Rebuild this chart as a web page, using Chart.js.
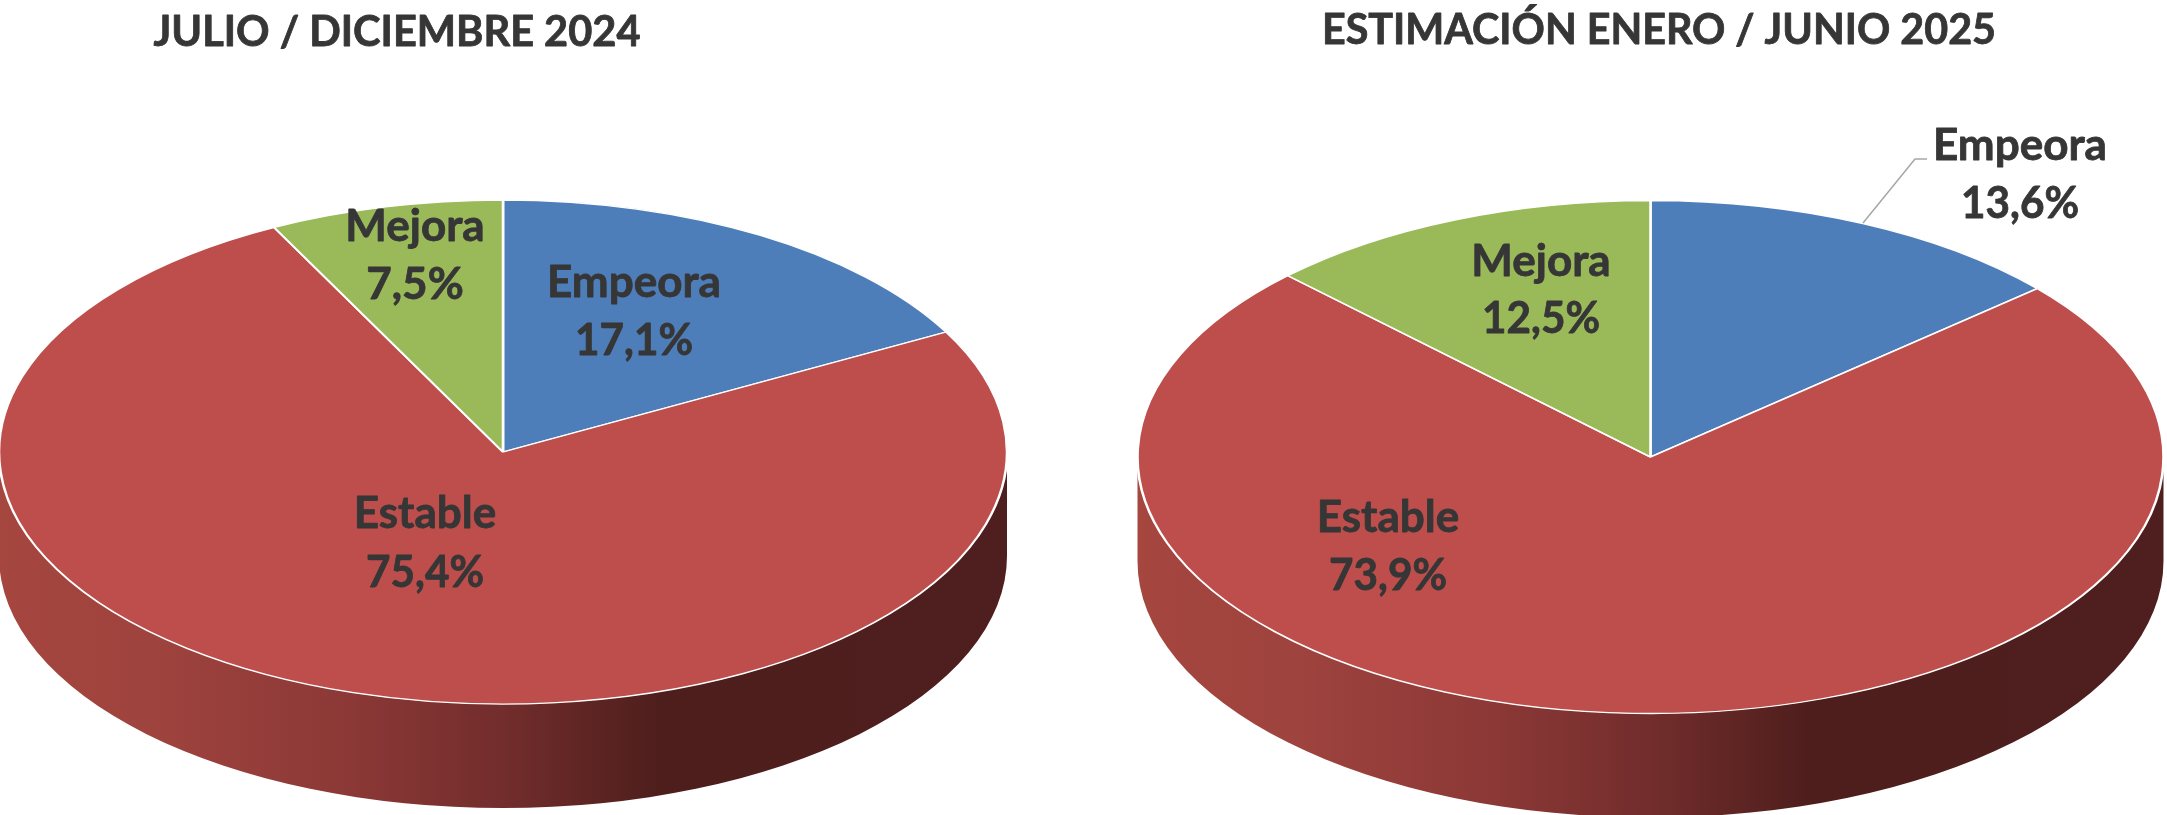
<!DOCTYPE html>
<html>
<head>
<meta charset="utf-8">
<style>
html,body{margin:0;padding:0;background:#fff;width:2167px;height:815px;overflow:hidden}
canvas{position:absolute;top:0}
#c1{left:0}
#c2{left:1083px}
</style>
<script src="https://cdn.jsdelivr.net/npm/chart.js@4"></script>
</head>
<body>
<canvas id="c1" width="1083" height="815"></canvas>
<canvas id="c2" width="1084" height="815"></canvas>
<script>
// ---- data ----
const categories = ['Empeora', 'Estable', 'Mejora'];
const valuesJulDic2024 = [17.1, 75.4, 7.5];
const valuesEneJun2025 = [13.6, 73.9, 12.5];
const titleLeft = 'JULIO / DICIEMBRE 2024';
const titleRight = 'ESTIMACIÓN ENERO / JUNIO 2025';
const sliceColors = ['#4e7eba', '#bd4e4c', '#9aba5a'];

// ---- presentation (positions in canvas pixels) ----
const TEXT = '#363636';
const FONT = 'Lato, Carlito, sans-serif';
const tilt = 0.5;
const depth = 104;
const wallStops = [[0,'#a5463f'],[0.15,'#9f433e'],[0.35,'#8b3836'],[0.5,'#722d2c'],[0.66,'#4d1e1c'],[1,'#4e1f1e']];

const layoutLeft = {
  cx: 503, cy: 452, r: 504,
  title: {x: 397, y: 46, w: 487, size: 42},
  labels: [{x:634,y1:297,y2:355},{x:425,y1:528,y2:587},{x:415,y1:241,y2:299}],
  leader: null
};
const layoutRight = {
  cx: 567.5, cy: 457, r: 513,
  title: {x: 576, y: 44, w: 674, size: 42},
  labels: [{x:937,y1:160,y2:218},{x:305,y1:532,y2:590},{x:458,y1:276,y2:333}],
  leader: [[780,223],[832,159],[844,159]]
};

function boldText(ctx, s, x, y, w) {
  ctx.fillText(s, x, y, w);
  ctx.strokeText(s, x, y, w);
}

const pie3d = {
  id: 'pie3d',
  beforeDatasetsDraw(chart, args, opts) {
    const L = opts.layout, ctx = chart.ctx;
    const arc = chart.getDatasetMeta(0).data[0];
    const rx = L.r, ry = L.r * tilt;
    const g = ctx.createLinearGradient(L.cx - rx, 0, L.cx + rx, 0);
    wallStops.forEach(s => g.addColorStop(s[0], s[1]));
    ctx.save();
    ctx.beginPath();
    ctx.ellipse(L.cx, L.cy, rx, ry, 0, 0, Math.PI);
    ctx.lineTo(L.cx - rx, L.cy + depth);
    ctx.ellipse(L.cx, L.cy + depth, rx, ry, 0, Math.PI, 0, true);
    ctx.closePath();
    ctx.fillStyle = g;
    ctx.fill();
    ctx.restore();
    ctx.save();
    ctx.translate(L.cx, L.cy);
    ctx.scale(1, tilt);
    ctx.translate(-arc.x, -arc.y);
  },
  afterDatasetsDraw(chart, args, opts) {
    const L = opts.layout, ctx = chart.ctx;
    ctx.restore();
    const values = chart.data.datasets[0].data;
    ctx.save();
    ctx.fillStyle = TEXT;
    ctx.strokeStyle = TEXT;
    ctx.lineWidth = 0.8;
    ctx.lineJoin = 'round';
    ctx.textAlign = 'center';
    ctx.textBaseline = 'alphabetic';
    ctx.font = 'bold ' + L.title.size + 'px ' + FONT;
    boldText(ctx, opts.title, L.title.x, L.title.y, L.title.w);
    ctx.font = 'bold 44px ' + FONT;
    chart.data.labels.forEach((name, i) => {
      const p = L.labels[i];
      boldText(ctx, name, p.x, p.y1, 176);
      boldText(ctx, values[i].toFixed(1).replace('.', ',') + '%', p.x, p.y2, 118);
    });
    if (L.leader) {
      ctx.strokeStyle = '#a6a6a6';
      ctx.lineWidth = 1.5;
      ctx.beginPath();
      L.leader.forEach((q, i) => i ? ctx.lineTo(q[0], q[1]) : ctx.moveTo(q[0], q[1]));
      ctx.stroke();
    }
    ctx.restore();
  }
};

function makePie(id, values, title, layout) {
  return new Chart(document.getElementById(id), {
    type: 'pie',
    data: {
      labels: categories,
      datasets: [{
        data: values,
        backgroundColor: sliceColors,
        borderColor: '#ffffff',
        borderWidth: 2.6,
        radius: layout.r,
        clip: false
      }]
    },
    options: {
      responsive: false,
      animation: false,
      events: [],
      plugins: {
        legend: {display: false},
        tooltip: {enabled: false},
        title: {display: false},
        pie3d: {layout: layout, title: title}
      }
    },
    plugins: [pie3d]
  });
}
makePie('c1', valuesJulDic2024, titleLeft, layoutLeft);
makePie('c2', valuesEneJun2025, titleRight, layoutRight);
</script>
</body>
</html>
